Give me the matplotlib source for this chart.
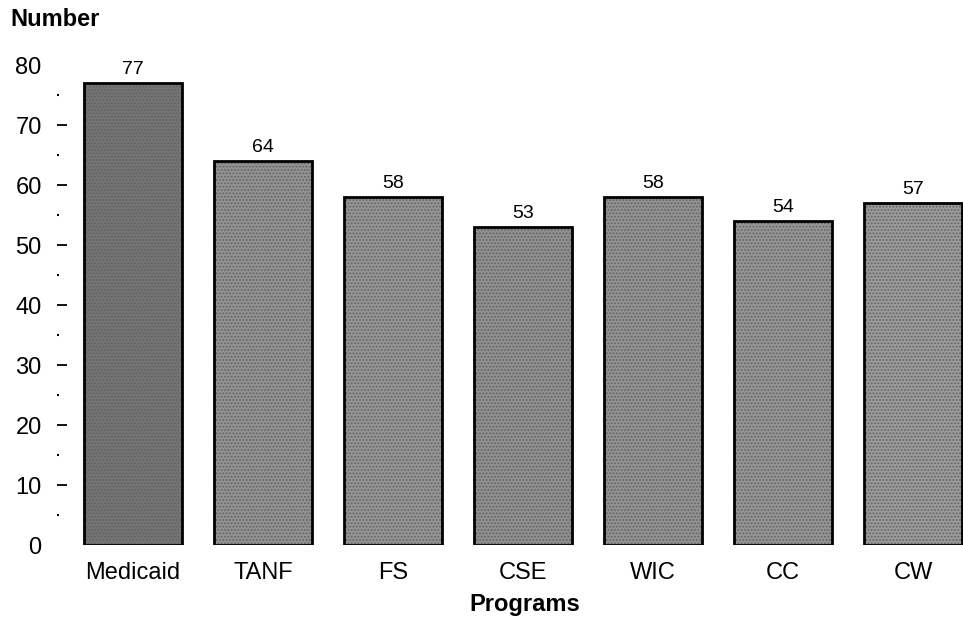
import matplotlib
matplotlib.use('Agg')
import matplotlib.pyplot as plt
import numpy as np

# Data
programs = ['Medicaid', 'TANF', 'FS', 'CSE', 'WIC', 'CC', 'CW']
counts = [77, 64, 58, 53, 58, 54, 57]
bar_colors = ['#747474', '#929292', '#949494', '#909090', '#929292', '#949494', '#9a9a9a']

plt.rcParams['font.family'] = ['Liberation Sans', 'DejaVu Sans']
plt.rcParams['hatch.linewidth'] = 0.8

fig = plt.figure(figsize=(9.63, 6.2), dpi=100)
ax = fig.add_axes([57 / 963, 75 / 620, 906 / 963, 480 / 620])

x = np.arange(len(programs))
bars = ax.bar(x, counts, width=0.76, color=bar_colors, edgecolor='black',
              linewidth=2.0, hatch='.....')
for b in bars:
    b._hatch_color = (0.38, 0.38, 0.38, 1.0)

for xi, v in zip(x, counts):
    ax.text(xi, v + 0.8, str(v), ha='center', va='bottom', fontsize=14)

ax.set_xlim(-76 / 130, 830 / 130)
ax.set_ylim(0, 80)
for s in ax.spines.values():
    s.set_visible(False)

ax.set_yticks(np.arange(0, 81, 10))
ax.set_yticks(np.arange(5, 80, 10), minor=True)
ax.tick_params(axis='y', which='major', direction='in', length=7, width=1.3,
               labelsize=17, pad=11)
ax.tick_params(axis='y', which='minor', direction='in', length=1.5, width=1.5)
ticks = ax.yaxis.get_major_ticks()
ticks[0].tick1line.set_visible(False)
ticks[-1].tick1line.set_visible(False)

ax.set_xticks(x)
ax.set_xticklabels(programs, fontsize=17)
ax.tick_params(axis='x', length=0, pad=12)

fig.text(10 / 963, 1 - 19 / 620, 'Number', fontsize=17, fontweight='bold',
         ha='left', va='center')
fig.text(525 / 963, 1 - 604 / 620, 'Programs', fontsize=17, fontweight='bold',
         ha='center', va='center')

fig.savefig('out.png', dpi=100)
